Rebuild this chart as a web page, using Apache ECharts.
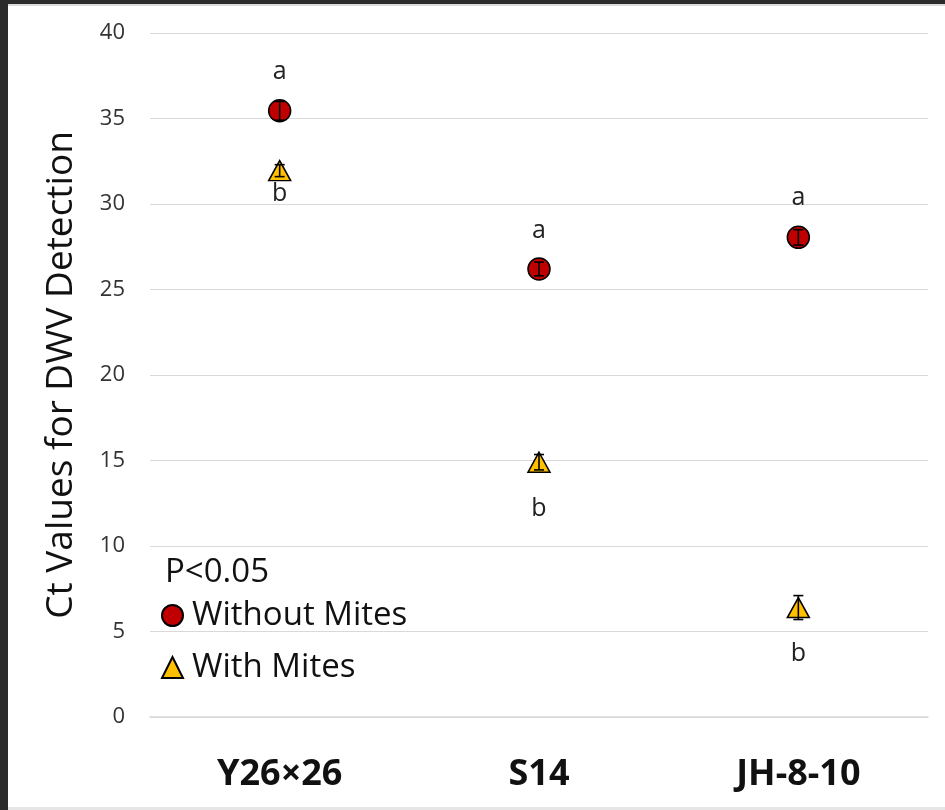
<!DOCTYPE html>
<html><head><meta charset="utf-8">
<script src="https://cdn.jsdelivr.net/npm/echarts@6/dist/echarts.min.js"></script>
<style>html,body{margin:0;padding:0;background:#fff;}#c{width:945px;height:810px;}</style>
</head><body><div id="c"></div>
<script>
var categories = ['Y26×26', 'S14', 'JH-8-10'];
var withoutMites = [35.45, 26.2, 28.05];
var withoutMitesErr = [0.55, 0.4, 0.45];
var withMites = [31.95, 14.9, 6.4];
var withMitesErr = [0.35, 0.45, 0.7];
var withoutLetters = ['a', 'a', 'a'];
var withoutLetterPos = [37.7, 28.4, 30.35];
var withLetters = ['b', 'b', 'b'];
var withLetterPos = [30.6, 12.2, 3.7];
var yTicks = [0, 5, 10, 15, 20, 25, 30, 35, 40];

var chart = echarts.init(document.getElementById('c'));
function errData(vals, errs) {
  return vals.map(function (v, i) { return [i, v - errs[i], v + errs[i]]; });
}
function errRender(params, api) {
  var x = api.value(0);
  var lo = api.coord([x, api.value(1)]);
  var hi = api.coord([x, api.value(2)]);
  var w = 5;
  var st = { stroke: '#000', lineWidth: 1.6 };
  return { type: 'group', children: [
    { type: 'line', shape: { x1: lo[0], y1: lo[1], x2: hi[0], y2: hi[1] }, style: st },
    { type: 'line', shape: { x1: hi[0] - w, y1: hi[1], x2: hi[0] + w, y2: hi[1] }, style: st },
    { type: 'line', shape: { x1: lo[0] - w, y1: lo[1], x2: lo[0] + w, y2: lo[1] }, style: st }
  ]};
}
function letterData(pos, letters) {
  return pos.map(function (p, i) { return [i, p, letters[i]]; });
}
function letterRender(params, api) {
  var p = api.coord([api.value(0), api.value(1)]);
  return { type: 'text', x: p[0], y: p[1], style: {
    text: api.value(2), fontSize: 25, fill: '#222', fontFamily: 'Open Sans',
    align: 'center', verticalAlign: 'middle' } };
}

chart.setOption({
  backgroundColor: '#fff',
  animation: false,
  grid: { left: 150, right: 17, top: 33, bottom: 93 },
  xAxis: {
    type: 'category', data: categories,
    axisLine: { show: true, lineStyle: { color: '#d9d9d9', width: 1.5 } },
    axisTick: { show: false },
    axisLabel: { fontSize: 36, fontWeight: 'bold', color: '#111', margin: 40, fontFamily: 'Noto Sans' }
  },
  yAxis: {
    type: 'value', min: 0, max: 40, interval: 5,
    name: 'Ct Values for DWV Detection', nameLocation: 'middle', nameGap: 70,
    nameTextStyle: { fontSize: 37, color: '#111', fontFamily: 'Open Sans' },
    axisLine: { show: false }, axisTick: { show: false },
    axisLabel: { fontSize: 22, color: '#333', margin: 25, fontFamily: 'Open Sans',
      formatter: function (v) { return yTicks.indexOf(v) >= 0 ? String(v) : ''; } },
    splitLine: { lineStyle: { color: '#d9d9d9', width: 1.2 } }
  },
  legend: {
    orient: 'vertical', left: 156, top: 594, itemGap: 19,
    itemWidth: 21, itemHeight: 21,
    data: ['Without Mites', 'With Mites'],
    textStyle: { fontSize: 33, lineHeight: 30, color: '#111', fontFamily: 'Open Sans', padding: [0, 0, 0, 4] }
  },
  graphic: [
    { type: 'rect', shape: { x: 0, y: 0, width: 945, height: 4 }, style: { fill: '#2b2b2b' }, z: 100 },
    { type: 'rect', shape: { x: 0, y: 4, width: 945, height: 2 }, style: { fill: '#dcdcdc' }, z: 100 },
    { type: 'rect', shape: { x: 0, y: 0, width: 8, height: 810 }, style: { fill: '#2b2b2b' }, z: 100 },
    { type: 'rect', shape: { x: 8, y: 807, width: 937, height: 3 }, style: { fill: '#e6e6e6' }, z: 100 },
    { type: 'text', left: 165, top: 556, style: { text: 'P<0.05', fontSize: 33, fill: '#111', fontFamily: 'Open Sans' } }
  ],
  series: [
    { name: 'Without Mites', type: 'scatter', data: withoutMites, symbol: 'circle', symbolSize: 22,
      itemStyle: { color: '#c00000', opacity: 1, borderColor: '#000', borderWidth: 1.5 }, z: 3 },
    { name: 'With Mites', type: 'scatter', data: withMites, symbol: 'triangle', symbolSize: [22, 20],
      itemStyle: { color: '#ffc000', opacity: 1, borderColor: '#000', borderWidth: 1.5 }, z: 3 },
    { type: 'custom', renderItem: errRender, data: errData(withoutMites, withoutMitesErr), z: 5, silent: true },
    { type: 'custom', renderItem: errRender, data: errData(withMites, withMitesErr), z: 5, silent: true },
    { type: 'custom', renderItem: letterRender, data: letterData(withoutLetterPos, withoutLetters), silent: true, z: 6 },
    { type: 'custom', renderItem: letterRender, data: letterData(withLetterPos, withLetters), silent: true, z: 6 }
  ]
});
</script></body></html>
